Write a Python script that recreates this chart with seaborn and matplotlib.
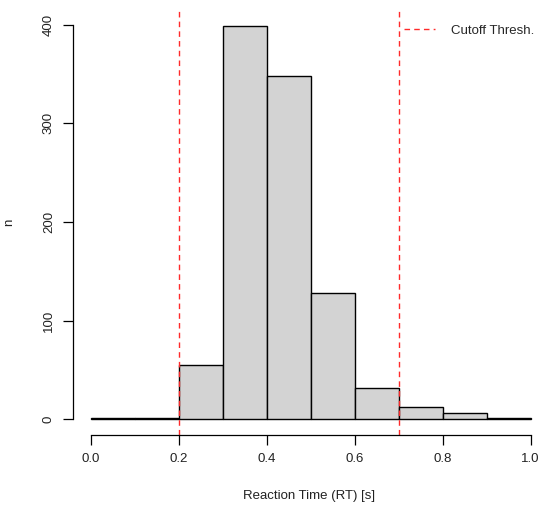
import matplotlib
matplotlib.use("Agg")
import matplotlib.pyplot as plt
import seaborn as sns
import numpy as np

# histogram bins and counts
bin_edges = [0.0, 0.1, 0.2, 0.3, 0.4, 0.5, 0.6, 0.7, 0.8, 0.9, 1.0]
counts = [1, 1, 55, 399, 348, 128, 32, 12, 6, 1]
cutoffs = [0.2, 0.7]

x_ticks = [0.0, 0.2, 0.4, 0.6, 0.8, 1.0]
y_ticks = [0, 100, 200, 300, 400]

sns.set_style("white")
plt.rcParams["font.family"] = ["Liberation Sans", "DejaVu Sans"]

fig = plt.figure(figsize=(5.46, 5.07), dpi=100)
ax = fig.add_axes([73 / 546, (507 - 435) / 507, (546 - 73) / 546, (435 - 9) / 507])

centers = [(a + b) / 2 for a, b in zip(bin_edges[:-1], bin_edges[1:])]
sns.histplot(x=centers, weights=counts, bins=bin_edges, ax=ax,
             color="#D3D3D3", edgecolor="black", linewidth=1.0, alpha=1.0)

for c in cutoffs:
    ax.axvline(c, color="#FF2A2A", linestyle=(0, (4, 3)), linewidth=1.0,
               label="Cutoff Thresh." if c == cutoffs[0] else None)

ax.set_xlim(-0.04, 1.035)
ax.set_ylim(-16, 416)
ax.set_xticks(x_ticks)
ax.set_xticklabels([f"{v:.1f}" for v in x_ticks])
ax.set_yticks(y_ticks)
ax.set_yticklabels([str(v) for v in y_ticks], rotation=90, va="center")

for s in ["top", "right"]:
    ax.spines[s].set_visible(False)
ax.spines["left"].set_bounds(0, 400)
ax.spines["bottom"].set_bounds(0, 1)
for s in ["left", "bottom"]:
    ax.spines[s].set_color("black")
    ax.spines[s].set_linewidth(0.9)

ax.tick_params(axis="both", direction="out", length=7, width=0.9,
               colors="black", labelsize=9.5, pad=6, bottom=True, left=True)
ax.tick_params(axis="both", labelcolor="#222222")

ax.set_xlabel("Reaction Time (RT) [s]", fontsize=9.5, color="#222222", labelpad=18)
ax.set_ylabel("n", fontsize=9.5, color="#222222", labelpad=20)

ax.legend(loc="upper right", frameon=False, fontsize=9.5, handlelength=2.4,
          handletextpad=1.2, bbox_to_anchor=(0.995, 0.985), borderaxespad=0.3)

fig.savefig("out.png", dpi=100)
